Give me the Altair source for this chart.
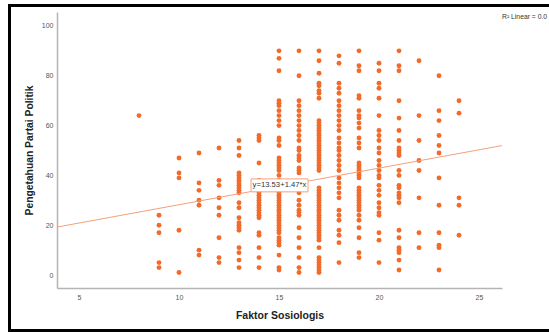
import altair as alt
import pandas as pd

# ---- data -------------------------------------------------------------------
faktor_levels = [8, 9, 10, 11, 12, 13, 14, 15, 16, 17, 18, 19, 20, 21, 22, 23, 24]

y_at_8 = [64]
y_at_9 = [24, 20, 17, 5, 3]
y_at_10 = [47, 41, 39, 18, 1]
y_at_11 = [49, 37, 34, 30, 28, 10, 8]
y_at_12 = [51, 38, 36, 31, 27, 24, 15, 7, 5]
y_at_13 = [54, 51, 48, 41, 40, 39, 38, 37, 36, 35, 34, 33, 29, 27, 23, 21, 20, 19, 18, 11, 9, 6, 3]
y_at_14 = [56, 55, 54, 45, 38, 36, 33, 32, 31, 30, 29, 28, 27, 26, 25, 24, 23, 17, 16, 11, 7, 3]
y_at_15 = [90, 87, 82, 70, 69, 68, 66, 64, 62, 60, 55, 54, 52, 47, 46, 45, 44, 43, 42, 40, 38, 37,
           36, 33, 32, 31, 30, 29, 28, 27, 26, 25, 24, 23, 22, 21, 20, 19, 18, 17, 15, 14, 13, 12, 8, 3, 2]
y_at_16 = [90, 80, 70, 68, 66, 64, 62, 60, 58, 56, 54, 51, 50, 48, 47, 46, 43, 42, 41, 35, 34, 33,
           30, 28, 26, 25, 24, 19, 15, 11, 7, 3, 1]
y_at_17 = [90, 86, 81, 77, 76, 74, 73, 71, 62, 61, 60, 59, 58, 57, 56, 55, 54, 53, 52, 51, 50, 49,
           48, 47, 46, 45, 44, 43, 42, 35, 34, 33, 32, 31, 30, 29, 28, 27, 26, 25, 24, 23, 22, 21,
           20, 19, 18, 17, 16, 15, 14, 11, 7, 6, 5, 4, 3, 2, 1]
y_at_18 = [88, 85, 77, 75, 73, 70, 68, 66, 64, 62, 60, 58, 55, 53, 51, 50, 48, 46, 44, 42, 39, 37,
           35, 33, 31, 26, 24, 22, 18, 16, 13, 5]
y_at_19 = [90, 84, 82, 72, 71, 66, 64, 63, 61, 59, 55, 53, 51, 45, 44, 43, 42, 41, 40, 39, 35, 34,
           33, 32, 31, 30, 29, 28, 27, 26, 24, 22, 19, 15, 9, 7]
y_at_20 = [85, 82, 77, 75, 71, 64, 58, 56, 54, 51, 49, 46, 44, 42, 40, 39, 36, 34, 32, 29, 27, 25,
           24, 17, 14, 5]
y_at_21 = [90, 84, 82, 70, 63, 58, 54, 51, 50, 49, 48, 42, 40, 36, 35, 33, 32, 31, 29, 18, 15, 11,
           10, 9, 6, 2]
y_at_22 = [86, 64, 54, 46, 42, 31, 17, 11]
y_at_23 = [80, 66, 62, 56, 52, 49, 39, 28, 17, 12, 11, 2]
y_at_24 = [70, 65, 31, 28, 16]

y_columns = [y_at_8, y_at_9, y_at_10, y_at_11, y_at_12, y_at_13, y_at_14, y_at_15, y_at_16,
             y_at_17, y_at_18, y_at_19, y_at_20, y_at_21, y_at_22, y_at_23, y_at_24]

x_ticks = [5, 10, 15, 20, 25]
y_ticks = [0, 20, 40, 60, 80, 100]
x_domain = [3.9, 26.15]
y_domain = [-5.2, 105.6]

fit_intercept = 13.53
fit_slope = 1.47
fit_x_ends = x_domain
fit_label = "y=13.53+1.47*x"
label_box_x = [13.6, 16.45]
label_box_y = [33.4, 38.6]
r2_label = "R\u00b2 Linear = 0.0"

# ---- tables ---------------------------------------------------------------
rows = []
for xv, ys in zip(faktor_levels, y_columns):
    for yv in ys:
        rows.append({"faktor": xv, "pengetahuan": yv})
df = pd.DataFrame(rows)
line_df = pd.DataFrame({"faktor": fit_x_ends})
box_df = pd.DataFrame({"faktor": [label_box_x[0]], "faktor_end": [label_box_x[1]],
                       "pengetahuan": [label_box_y[0]], "pengetahuan_end": [label_box_y[1]],
                       "t": [fit_label]})
text_df = pd.DataFrame({"faktor": [sum(label_box_x) / 2],
                        "pengetahuan": [sum(label_box_y) / 2],
                        "t": [fit_label]})

FONT = "Liberation Sans"
DOT = "#f26b2b"
FIT = "#f5a07a"

xscale = alt.Scale(domain=x_domain, nice=False, zero=False)
yscale = alt.Scale(domain=y_domain, nice=False, zero=False)

x_axis = alt.Axis(values=x_ticks, grid=False, ticks=False,
                  domainColor="#b4b4b4", domainWidth=1.5, labelFontSize=7, labelPadding=5,
                  labelColor="#555555", labelFont=FONT, titleFont=FONT, titleFontSize=10.5,
                  titleFontWeight="bold", titleColor="#222222", titleX=222.5, titleY=30,
                  titleBaseline="alphabetic", titleAlign="center")
y_axis = alt.Axis(values=y_ticks, grid=False, ticks=False,
                  domainColor="#b4b4b4", domainWidth=1.5, labelFontSize=7, labelPadding=4,
                  labelColor="#555555", labelFont=FONT, titleFont=FONT, titleFontSize=10.3,
                  titleFontWeight="bold", titleColor="#222222", titleAngle=270, titleX=-25,
                  titleY=138, titleBaseline="alphabetic", titleAlign="center")

X = alt.X("faktor:Q", scale=xscale, axis=x_axis, title="Faktor Sosiologis")
Y = alt.Y("pengetahuan:Q", scale=yscale, axis=y_axis, title="Pengetahuan Partai Politik")

points = alt.Chart(df).mark_circle(size=24, color=DOT, opacity=1).encode(x=X, y=Y)

fit_line = alt.Chart(line_df).transform_calculate(
    pengetahuan=f"{fit_intercept} + {fit_slope} * datum.faktor"
).mark_line(color=FIT, strokeWidth=1).encode(x=X, y=Y)

box = alt.Chart(box_df).mark_rect(fill="white", stroke=FIT, strokeWidth=1).encode(
    x=X, x2="faktor_end:Q", y=Y, y2="pengetahuan_end:Q",
)
box_text = alt.Chart(text_df).mark_text(font=FONT, fontSize=7.7, color="#333333",
                                        align="center", baseline="middle").encode(
    x=X, y=Y, text="t:N",
)

r2 = alt.Chart(pd.DataFrame({"t": [r2_label]})).mark_text(
    font=FONT, fontSize=6.8, color="#333333", align="left", baseline="alphabetic"
).encode(x=alt.value(445), y=alt.value(7.3), text="t:N")

frame = alt.Chart(pd.DataFrame({"a": [0]})).mark_rect(
    filled=False, stroke="black", strokeWidth=3
).encode(x=alt.value(-47.5), x2=alt.value(560), y=alt.value(-6.5), y2=alt.value(318.5))

chart = alt.layer(points, fit_line, box, box_text, r2, frame).properties(
    width=445, height=276, autosize="none",
    padding={"left": 57, "top": 12, "right": 47, "bottom": 44},
    background="white",
).configure_view(stroke=None)

chart.save("out.html", embed_options={"renderer": "svg", "actions": False})
